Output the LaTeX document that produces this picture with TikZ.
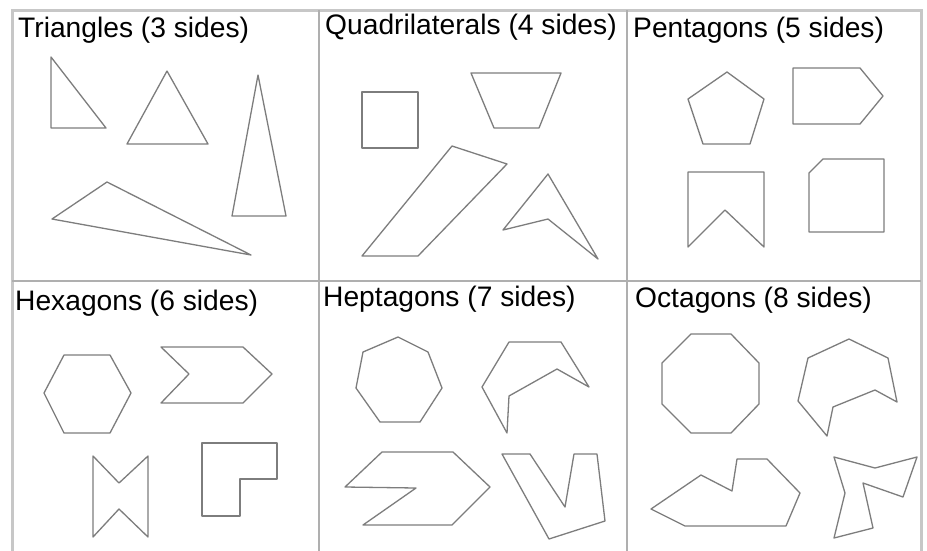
\documentclass[tikz,border=0pt]{standalone}
\usepackage{fontspec}
\setmainfont{Liberation Sans}
\definecolor{gridcol}{RGB}{175,175,175}
\definecolor{polycol}{RGB}{125,125,125}
\tikzset{
  gridline/.style={draw=gridcol, line width=2pt},
  outerline/.style={draw=gridcol!70, line width=3pt},
  poly/.style={draw=polycol, line width=1.3pt, line join=round},
  title/.style={anchor=base west, inner sep=0pt, font=\fontsize{28.2}{33}\selectfont, text=black}
}
\begin{document}
\begin{tikzpicture}[x=1pt,y=-1pt]
\useasboundingbox (0,0) rectangle (927,550);
\fill[white] (0,0) rectangle (927,550);
% grid
\draw[outerline] (12,551) -- (12,10) -- (921,10) -- (921,551);
\draw[gridline] (319,10) -- (319,551);
\draw[gridline] (627,10) -- (627,551);
\draw[gridline] (12,281) -- (921,281);
% titles
\node[title] (t3) at (18,37) {Triangles (3 sides)};
\node[title] (t4) at (325,34) {Quadrilaterals (4 sides)};
\node[title] (t5) at (633,37) {Pentagons (5 sides)};
\node[title] (t6) at (15,310) {Hexagons (6 sides)};
\node[title] (t7) at (323,306) {Heptagons (7 sides)};
\node[title] (t8) at (635,307) {Octagons (8 sides)};
% triangles
\draw[poly] (51,57) -- (51,128) -- (106,128) -- cycle;
\draw[poly] (167,71) -- (127,144) -- (208,144) -- cycle;
\draw[poly] (258,75) -- (232,216) -- (286,216) -- cycle;
\draw[poly] (52,219) -- (107,182) -- (251,255) -- cycle;
% quadrilaterals
\draw[poly] (362,92) rectangle (418,148);
\draw[poly] (471,73) -- (561,73) -- (539,128) -- (494,128) -- cycle;
\draw[poly] (452,146) -- (507,164) -- (418,256) -- (362,256) -- cycle;
\draw[poly] (548,174) -- (598,259) -- (548,219) -- (503,230) -- cycle;
% pentagons
\draw[poly] (727,72) -- (764,99) -- (750,144) -- (703,144) -- (688,99) -- cycle;
\draw[poly] (793,68) -- (860,68) -- (883,96) -- (860,124) -- (793,124) -- cycle;
\draw[poly] (688,172) -- (764,172) -- (764,247) -- (725,210) -- (688,247) -- cycle;
\draw[poly] (823,159) -- (884,159) -- (884,232) -- (809,232) -- (809,173) -- cycle;
% hexagons
\draw[poly] (44,393) -- (64,355) -- (110,355) -- (131,393) -- (110,433) -- (64,433) -- cycle;
\draw[poly] (161,347) -- (243,347) -- (272,374) -- (243,403) -- (161,403) -- (189,374) -- cycle;
\draw[poly] (93,456) -- (119,483) -- (148,456) -- (148,537) -- (119,509) -- (93,537) -- cycle;
\draw[poly] (202,443) -- (277,443) -- (277,479) -- (240,479) -- (240,516) -- (202,516) -- cycle;
% heptagons
\draw[poly] (398,337) -- (428,352) -- (442,388) -- (420,422) -- (380,422) -- (356,388) -- (363,352) -- cycle;
\draw[poly] (509,342) -- (561,342) -- (589,387) -- (557,369) -- (509,396) -- (507,433) -- (482,387) -- cycle;
\draw[poly] (382,452) -- (453,452) -- (490,487) -- (452,525) -- (363,525) -- (416,488) -- (345,487) -- cycle;
\draw[poly] (502,454) -- (530,454) -- (565,507) -- (574,454) -- (597,454) -- (605,521) -- (549,539) -- cycle;
% octagons
\draw[poly] (691,334) -- (731,334) -- (759,363) -- (759,404) -- (731,433) -- (691,433) -- (662,404) -- (662,363) -- cycle;
\draw[poly] (808,358) -- (849,339) -- (888,358) -- (897,402) -- (875,390) -- (833,407) -- (827,436) -- (798,401) -- cycle;
\draw[poly] (651,509) -- (701,475) -- (732,491) -- (737,459) -- (767,459) -- (800,493) -- (786,526) -- (685,526) -- cycle;
\draw[poly] (834,457) -- (875,468) -- (917,457) -- (903,497) -- (863,483) -- (873,528) -- (834,538) -- (845,493) -- cycle;
\end{tikzpicture}
\end{document}
